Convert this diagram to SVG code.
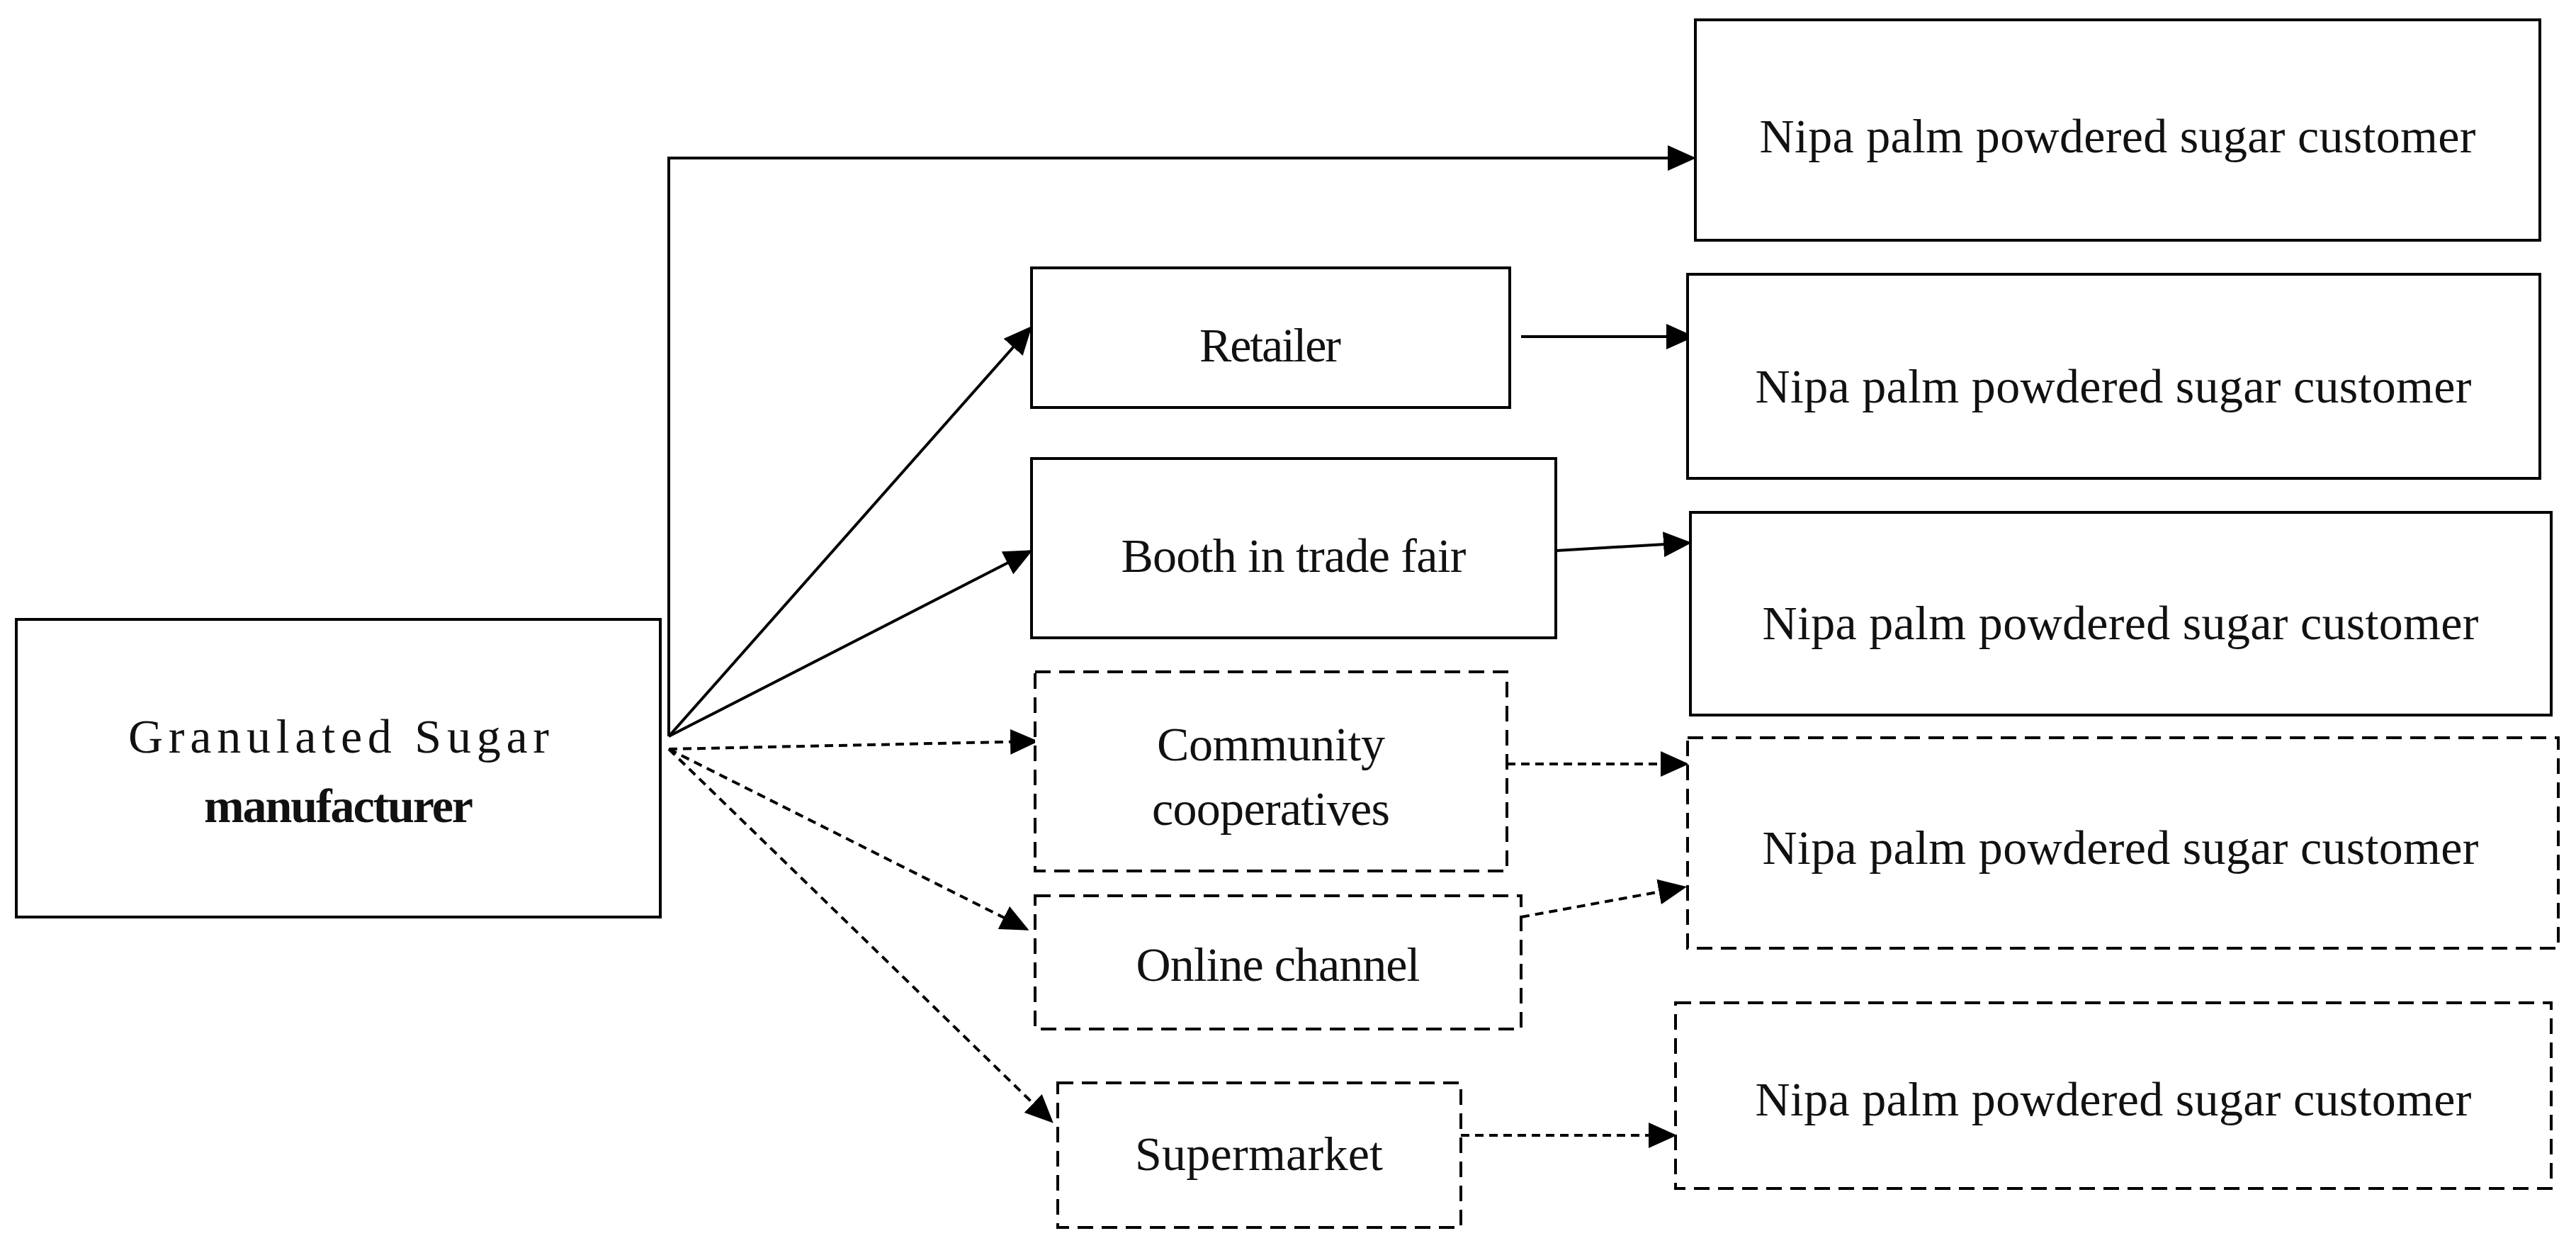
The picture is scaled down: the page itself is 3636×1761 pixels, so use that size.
<svg xmlns="http://www.w3.org/2000/svg" width="3636" height="1761" viewBox="0 0 3636 1761">
<style>
.b{fill:#fff;stroke:#000;stroke-width:4}
.d{fill:#fff;stroke:#000;stroke-width:4;stroke-dasharray:22 12}
.t{font-family:"Liberation Serif",serif;font-size:68px;text-anchor:middle;fill:#111}
.c{fill:none;stroke:#000;stroke-width:4;marker-end:url(#ah)}
.cd{fill:none;stroke:#000;stroke-width:4;stroke-dasharray:12 8;marker-end:url(#ah)}
</style>
<defs><marker id="ah" markerWidth="10" markerHeight="9" refX="9" refY="4.5" orient="auto" markerUnits="strokeWidth"><path d="M0,0 L10,4.5 L0,9 Z" fill="#000"/></marker></defs>
<rect width="3636" height="1761" fill="#fff"/>
<g id="connectors">
<polyline class="c" points="944,1039 944,223 2390,223"/>
<line class="c" x1="944" y1="1039" x2="1454" y2="463"/>
<line class="c" x1="944" y1="1039" x2="1454" y2="778"/>
<line class="cd" x1="944" y1="1057" x2="1462" y2="1046"/>
<line class="cd" x1="944" y1="1057" x2="1449" y2="1311"/>
<line class="cd" x1="944" y1="1057" x2="1484" y2="1582"/>
<line class="c" x1="2147" y1="475" x2="2388" y2="475"/>
<line class="c" x1="2196" y1="777" x2="2384" y2="766"/>
<polyline class="cd" points="2127,1078 2380,1078"/>
<line class="cd" x1="2147" y1="1294" x2="2377" y2="1252"/>
<line class="cd" x1="2062" y1="1602" x2="2363" y2="1602"/>
</g>
<g id="granulated"><rect class="b" x="23" y="874" width="909" height="420"/><text class="t" x="478" y="1062" font-size="90" textLength="594">Granulated Sugar</text><text class="t" x="478" y="1160" font-size="54" font-weight="bold" textLength="380">manufacturer</text></g>
<g id="cust1"><rect class="b" x="2393" y="28" width="1192" height="311"/><text class="t" x="2989" y="215" textLength="1011">Nipa palm powdered sugar customer</text></g>
<g id="retailer"><rect class="b" x="1456" y="378" width="675" height="197"/><text class="t" x="1793" y="510" textLength="200">Retailer</text></g>
<g id="cust2"><rect class="b" x="2382" y="387" width="1203" height="288"/><text class="t" x="2983" y="568" textLength="1011">Nipa palm powdered sugar customer</text></g>
<g id="booth"><rect class="b" x="1456" y="647" width="740" height="253"/><text class="t" x="1826" y="807" textLength="487">Booth in trade fair</text></g>
<g id="cust3"><rect class="b" x="2386" y="723" width="1215" height="286"/><text class="t" x="2993" y="902" textLength="1011">Nipa palm powdered sugar customer</text></g>
<g id="community"><rect class="d" x="1461" y="948" width="666" height="281"/><text class="t" x="1794" y="1073" textLength="322">Community</text><text class="t" x="1794" y="1164" textLength="336">cooperatives</text></g>
<g id="cust4"><rect class="d" x="2382" y="1041" width="1229" height="297"/><text class="t" x="2993" y="1219" textLength="1011">Nipa palm powdered sugar customer</text></g>
<g id="online"><rect class="d" x="1461" y="1264" width="686" height="188"/><text class="t" x="1804" y="1384" textLength="401">Online  channel</text></g>
<g id="supermarket"><rect class="d" x="1493" y="1528" width="569" height="204"/><text class="t" x="1777" y="1651" textLength="350">Supermarket</text></g>
<g id="cust5"><rect class="d" x="2365" y="1415" width="1236" height="262"/><text class="t" x="2983" y="1574" textLength="1011">Nipa palm powdered sugar customer</text></g>
</svg>
